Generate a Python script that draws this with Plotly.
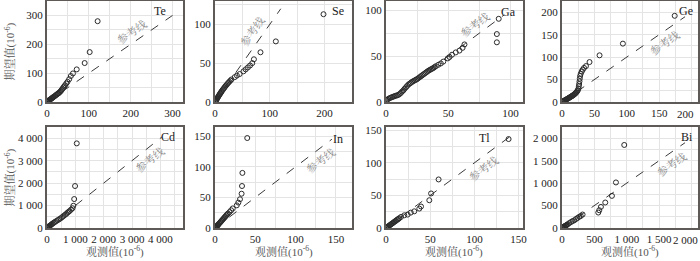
import math
import plotly.graph_objects as go

W, H = 700, 261

# ---------------- data (observed, expected) ----------------
te_obs = [0.3, 0.8, 1.5, 2.2, 3, 4, 5, 6, 7.5, 9, 10.5, 12, 13.5, 15, 17, 19, 21, 23, 25, 27, 29, 31,
          33, 35, 37, 39, 41, 43, 46, 49, 53, 57, 62, 71, 90, 102, 121]
te_exp = [0.4, 1.0, 1.8, 2.6, 3.5, 4.6, 5.8, 7, 8.5, 10, 11.8, 13.5, 15, 17, 19, 21, 23.5, 25.5, 28, 30,
          32, 35, 38, 42, 46, 50, 54, 58, 64, 70, 79, 90, 99, 113, 135, 173, 280]

se_obs = [0.3, 0.8, 1.3, 2, 2.8, 3.6, 4.5, 5.5, 6.5, 7.5, 8.5, 9.5, 10.5, 11.5, 12.5, 14, 15.5, 17, 18.5,
          20, 22, 24, 26, 28, 30, 36, 40, 45, 52, 56, 60, 64, 68, 71, 83, 111, 198]
se_exp = [0.4, 1, 1.6, 2.4, 3.3, 4.2, 5.2, 6.4, 7.6, 8.7, 9.8, 10.9, 12, 13, 14.2, 15.6, 17, 18.4, 19.8,
          21.2, 22.8, 24.5, 26, 27.5, 29, 32, 34, 36, 39.5, 42, 44.5, 47, 50, 55, 64, 78, 113]

ga_obs = [0.3, 1, 2, 3, 4, 5, 6, 7, 8, 9, 10, 11, 12, 13, 14, 15, 16, 17, 18, 19, 20, 21, 22, 23, 24, 25,
          26, 27, 28, 29, 30, 31, 32, 33, 34, 35, 36, 37, 38, 39, 40, 42, 44, 46, 49.6, 51, 53, 56, 59,
          61.5, 63, 89, 89, 90.5]
ga_exp = [1.5, 2.5, 3.5, 4.2, 4.8, 5.4, 5.9, 6.4, 6.9, 7.3, 7.8, 8.8, 10, 11.5, 12.8, 14.5, 16, 17.5, 19,
          20, 21, 22, 22.8, 23.5, 24.2, 25, 26, 27, 28, 29, 30, 31, 32, 33, 34, 34.8, 35.5, 36.3, 37, 38,
          39, 40.5, 42, 44, 47.5, 49, 51.5, 54, 56, 59, 62.7, 65, 74, 90.6]

ge_obs = [0.5, 1.5, 2.5, 3.5, 4.5, 5.5, 6.5, 7.5, 8.5, 9.5, 10.5, 11.5, 12.5, 13.5, 14.5, 15.5, 16.5, 17.5,
          18.5, 19.5, 20.5, 21.5, 22.5, 23.5, 24.5, 25.5, 26, 26.5, 27, 27.5, 28, 29, 30.5, 32, 34, 37,
          42.5, 58, 94, 174]
ge_exp = [0.5, 1.3, 2.2, 3, 3.8, 4.6, 5.4, 6.3, 7.1, 8, 8.9, 9.8, 10.7, 11.6, 12.5, 13.4, 14.4, 15.4,
          16.5, 17.7, 19, 20.5, 22, 24, 26.5, 30, 35, 40, 46, 52, 58, 63, 68, 72, 76, 80, 89, 104, 130, 192]

cd_obs = [5, 15, 30, 50, 70, 90, 110, 140, 170, 200, 240, 280, 330, 380, 430, 480, 530, 580, 630, 680,
          720, 760, 800, 850, 900, 930, 960, 990, 1050]
cd_exp = [5, 15, 30, 50, 70, 90, 110, 140, 170, 200, 235, 270, 310, 350, 390, 430, 480, 530, 580, 630,
          680, 720, 760, 820, 880, 990, 1290, 1870, 3770]

in_obs = [0.2, 0.5, 1, 1.5, 2, 2.5, 3, 3.5, 4, 5, 6, 7, 8, 9, 10, 11, 12, 13, 14, 15, 16, 18, 20, 22,
          27, 29, 31, 33, 33.5, 34, 40]
in_exp = [0.2, 0.6, 1.2, 1.8, 2.5, 3.2, 4, 4.8, 5.6, 7, 8.5, 10, 11.5, 13, 14.5, 16, 17.5, 19, 20.5,
          22, 23.5, 26, 29, 32, 37, 41.5, 47, 56, 68.6, 90, 147]

tl_obs = [0.3, 0.8, 1.5, 2.2, 3, 4, 5, 6, 7, 8, 9, 10, 11, 12, 13, 14, 15, 17, 20.7, 24.5, 28, 32, 37.7,
          39.6, 49, 51, 59.5, 138.7]
tl_exp = [0.3, 0.8, 1.5, 2.2, 3, 4, 5, 6, 7, 8, 9, 10, 11, 12, 13, 14, 15, 17, 19.5, 20.6, 23.6, 25.6,
          29.8, 33, 42.6, 53, 74.5, 136.5]

bi_obs = [2, 6, 10, 15, 20, 27, 35, 45, 55, 65, 75, 90, 113, 140, 164, 190, 216, 240, 267, 290, 318,
          560, 575, 601, 668, 771, 833, 961]
bi_exp = [2, 6, 10, 15, 20, 26, 33, 42, 51, 60, 70, 85, 110, 134, 155, 172, 200, 224, 250, 268, 300,
          344, 396, 470, 568, 716, 1015, 1850]

# panel specs: label, obs, exp, x range, y range, x dtick, y dtick, reference-line end
panels = [
    ("Te", te_obs, te_exp, 325, 350, 100, 100, 300),
    ("Se", se_obs, se_exp, 250, 130, 100, 50, 120),
    ("Ga", ga_obs, ga_exp, 110, 110, 50, 50, 95),
    ("Ge", ge_obs, ge_exp, 210, 225, 50, 50, 190),
    ("Cd", cd_obs, cd_exp, 4800, 4500, 1000, 1000, 4050),
    ("In", in_obs, in_exp, 170, 165, 50, 50, 145),
    ("Tl", tl_obs, tl_exp, 155, 155, 50, 50, 140),
    ("Bi", bi_obs, bi_exp, 2100, 2250, 500, 500, 1900),
]
# reference-line label position (fraction along the line) and side
ref_label_pos = [0.72, 0.69, 0.80, 0.79, 0.84, 0.85, 0.74, 0.84]
ref_label_side = [1, 1, 1, -1, -1, -1, -1, -1]
# element label: gap from right frame, y offset from top frame (px)
elem_gap = [15, 6, 5, 3, 6, 7, 31, 3]
elem_dy = [10, 10, 11, 10, 10, 12, 11, 10]

cols_px = [(47, 183), (215, 352), (386, 523), (562, 698)]
rows_px = [(1, 102), (127, 228)]

FONT = "Liberation Serif, Noto Serif CJK SC, Noto Sans CJK SC, serif"
FRAME = "#5e5a58"
GRID = "#e4e4e4"

fig = go.Figure()
layout = {}
annotations = []

for i, (lab, xo, ye, xr, yr, dx, dy, rend) in enumerate(panels):
    r, c = divmod(i, 4)
    x0p, x1p = cols_px[c]
    y0p, y1p = rows_px[r]
    n = i + 1
    xa = "xaxis" if n == 1 else f"xaxis{n}"
    ya = "yaxis" if n == 1 else f"yaxis{n}"
    xs = "x" if n == 1 else f"x{n}"
    ys = "y" if n == 1 else f"y{n}"
    common = dict(showline=True, linecolor=FRAME, linewidth=2, mirror=True,
                  showgrid=True, gridcolor=GRID, gridwidth=1, zeroline=False,
                  ticks="", tickfont=dict(family=FONT, size=11, color="#222"),
                  separatethousands=True, tickformat=",d", automargin=False,
                  fixedrange=True)
    xticks = [v for v in range(0, int(xr) + 1, int(dx))]
    # last label that would not fit the figure width is drawn as an annotation
    last_fits = x0p + xticks[-1] * (x1p - x0p) / xr + 14 <= W
    xdict = dict(common, domain=[x0p / W, x1p / W], range=[0, xr], anchor=ys,
                 minor=dict(dtick=dx / 2, tick0=0, showgrid=True, gridcolor=GRID, gridwidth=1))
    if last_fits:
        xdict.update(dtick=dx, tick0=0)
    else:
        xdict.update(tickmode="array", tickvals=xticks[:-1])
        annotations.append(dict(x=xticks[-1], y=1 - (y1p + 12) / H, xref=xs, yref="paper",
                                text=f"{xticks[-1]:,}".replace(",", " "), showarrow=False,
                                xanchor="center", yanchor="middle", xshift=-6,
                                font=dict(family=FONT, size=11, color="#222")))
    layout[xa] = xdict
    layout[ya] = dict(common, domain=[1 - y1p / H, 1 - y0p / H], range=[0, yr], dtick=dy, tick0=0,
                      anchor=xs, minor=dict(dtick=dy / 2, showgrid=True, gridcolor=GRID, gridwidth=1))

    fig.add_trace(go.Scatter(x=[0, rend], y=[0, rend], mode="lines", xaxis=xs, yaxis=ys,
                             line=dict(color="#3a3a3a", width=1, dash="dash"), showlegend=False,
                             hoverinfo="skip"))
    fig.add_trace(go.Scatter(x=xo, y=ye, mode="markers", xaxis=xs, yaxis=ys, showlegend=False,
                             marker=dict(symbol="circle-open", size=5, color="#2b2b2b",
                                         line=dict(width=1, color="#2b2b2b"))))

    sx = (x1p - x0p) / xr
    sy = (y1p - y0p) / yr
    ang = math.degrees(math.atan2(sy, sx))
    t = ref_label_pos[i] * rend
    annotations.append(dict(x=t, y=t, xref=xs, yref=ys, text="参考线", showarrow=False,
                            xanchor="center", yanchor="middle",
                            textangle=-ang, font=dict(family=FONT, size=11, color="#8a8a8a"),
                            xshift=-ref_label_side[i] * 10 * math.sin(math.radians(ang)),
                            yshift=ref_label_side[i] * 10 * math.cos(math.radians(ang))))
    annotations.append(dict(x=(x1p - elem_gap[i]) / W, y=1 - (y0p + elem_dy[i]) / H,
                            xref="paper", yref="paper",
                            text=lab, showarrow=False, xanchor="right", yanchor="middle",
                            font=dict(family=FONT, size=12, color="#222")))

for r, (y0p, y1p) in enumerate(rows_px):
    annotations.append(dict(x=10 / W, y=1 - (y0p + y1p) / 2 / H, xref="paper", yref="paper",
                            text="期望值(10<sup>-6</sup>)", showarrow=False, textangle=-90,
                            xanchor="center", yanchor="middle",
                            font=dict(family=FONT, size=11, color="#555")))
for c, (x0p, x1p) in enumerate(cols_px):
    annotations.append(dict(x=(x0p + x1p) / 2 / W, y=1 - 251 / H, xref="paper", yref="paper",
                            text="观测值(10<sup>-6</sup>)", showarrow=False,
                            xanchor="center", yanchor="middle",
                            font=dict(family=FONT, size=11, color="#555")))

fig.update_layout(width=W, height=H, margin=dict(l=0, r=0, t=0, b=0, autoexpand=False),
                  paper_bgcolor="white", plot_bgcolor="white", separators=". ",
                  annotations=annotations, **layout)

fig.write_html("out.html", config={"displayModeBar": False},
               post_script="document.body.style.margin='0px';document.body.style.padding='0px';"
                           "document.body.style.overflow='hidden';")
